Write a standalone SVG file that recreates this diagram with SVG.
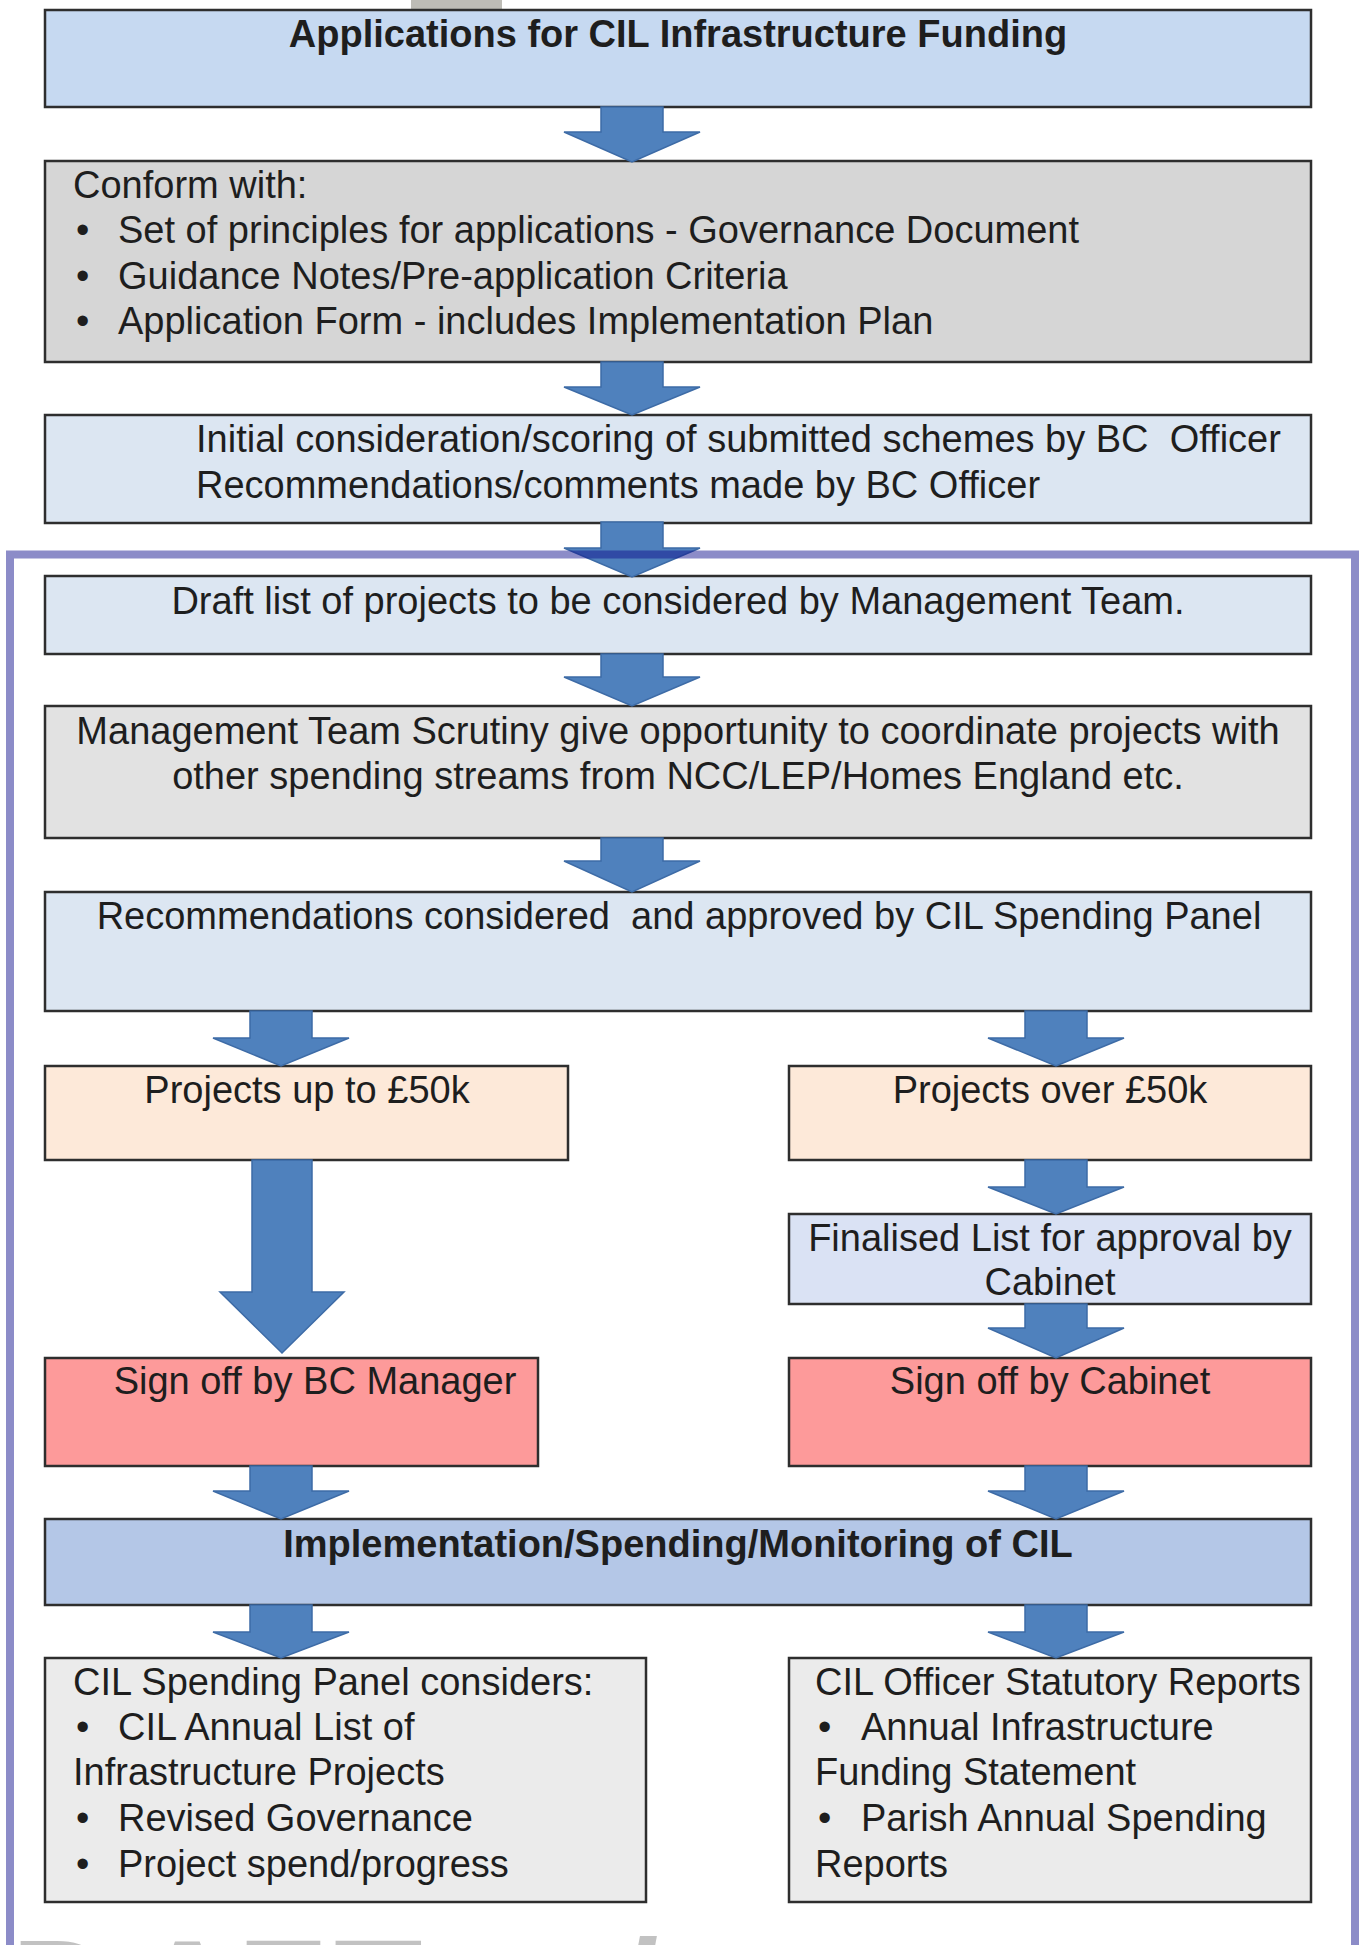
<svg xmlns="http://www.w3.org/2000/svg" width="1360" height="1945" viewBox="0 0 1360 1945">
<style>
.box{stroke:#2e2e2e;stroke-width:2.5}
.t{font-family:"Liberation Sans",Arial,sans-serif;font-size:38px;fill:#1e1e1e;white-space:pre}
.b{font-weight:bold}
.m{text-anchor:middle}
.arr{fill:#4f81bd;stroke:#3d6ba6;stroke-width:1.5}
</style>
<rect x="411" y="0" width="91" height="9" fill="#bdbcb6"/>
<g id="watermark">
<text x="11 135 237 334" y="2041" font-family="Liberation Sans, Arial, sans-serif" font-weight="bold" font-size="145" fill="#c2c2c2">DAFT</text>
<text x="618" y="2041" font-family="Liberation Sans, Arial, sans-serif" font-weight="bold" font-size="145" fill="#c2c2c2">/</text>
</g>
<g id="n1"><rect class="box" x="45" y="10" width="1266" height="97" fill="#c6d9f1"/>
<text class="t b m" x="678" y="47">Applications for CIL Infrastructure Funding</text></g>
<g id="n2"><rect class="box" x="45" y="161" width="1266" height="201" fill="#d6d6d6"/>
<text class="t" x="73" y="198">Conform with:</text>
<text class="t" y="243"><tspan x="76">•</tspan><tspan x="118">Set of principles for applications - Governance Document</tspan></text>
<text class="t" y="289"><tspan x="76">•</tspan><tspan x="118">Guidance Notes/Pre-application Criteria</tspan></text>
<text class="t" y="334"><tspan x="76">•</tspan><tspan x="118">Application Form - includes Implementation Plan</tspan></text></g>
<g id="n3"><rect class="box" x="45" y="415" width="1266" height="108" fill="#dce6f2"/>
<text class="t" x="196" y="452" xml:space="preserve">Initial consideration/scoring of submitted schemes by BC  Officer</text>
<text class="t" x="196" y="498">Recommendations/comments made by BC Officer</text></g>
<g id="n4"><rect class="box" x="45" y="576" width="1266" height="78" fill="#dce6f2"/>
<text class="t m" x="678" y="614">Draft list of projects to be considered by Management Team.</text></g>
<g id="n5"><rect class="box" x="45" y="706" width="1266" height="132" fill="#e2e2e2"/>
<text class="t m" x="678" y="744">Management Team Scrutiny give opportunity to coordinate projects with</text>
<text class="t m" x="678" y="789">other spending streams from NCC/LEP/Homes England etc.</text></g>
<g id="n6"><rect class="box" x="45" y="892" width="1266" height="119" fill="#dce6f2"/>
<text class="t m" x="679" y="929" xml:space="preserve">Recommendations considered  and approved by CIL Spending Panel</text></g>
<g id="n7a"><rect class="box" x="45" y="1066" width="523" height="94" fill="#fde9d9"/>
<text class="t m" x="307" y="1103">Projects up to £50k</text></g>
<g id="n7b"><rect class="box" x="789" y="1066" width="522" height="94" fill="#fde9d9"/>
<text class="t m" x="1050" y="1103">Projects over £50k</text></g>
<g id="n7c"><rect class="box" x="789" y="1214" width="522" height="90" fill="#dae2f4"/>
<text class="t m" x="1050" y="1251">Finalised List for approval by</text>
<text class="t m" x="1050" y="1295">Cabinet</text></g>
<g id="n8a"><rect class="box" x="45" y="1358" width="493" height="108" fill="#fd9a9a"/>
<text class="t m" x="315" y="1394">Sign off by BC Manager</text></g>
<g id="n8b"><rect class="box" x="789" y="1358" width="522" height="108" fill="#fd9a9a"/>
<text class="t m" x="1050" y="1394">Sign off by Cabinet</text></g>
<g id="n9"><rect class="box" x="45" y="1519" width="1266" height="86" fill="#b4c7e7"/>
<text class="t b m" x="678" y="1557">Implementation/Spending/Monitoring of CIL</text></g>
<g id="n10a"><rect class="box" x="45" y="1658" width="601" height="244" fill="#ebebeb"/>
<text class="t" x="73" y="1695">CIL Spending Panel considers:</text>
<text class="t" y="1740"><tspan x="76">•</tspan><tspan x="118">CIL Annual List of</tspan></text>
<text class="t" x="73" y="1785">Infrastructure Projects</text>
<text class="t" y="1831"><tspan x="76">•</tspan><tspan x="118">Revised Governance</tspan></text>
<text class="t" y="1877"><tspan x="76">•</tspan><tspan x="118">Project spend/progress</tspan></text></g>
<g id="n10b"><rect class="box" x="789" y="1658" width="522" height="244" fill="#ebebeb"/>
<text class="t" x="815" y="1695">CIL Officer Statutory Reports</text>
<text class="t" y="1740"><tspan x="818">•</tspan><tspan x="861">Annual Infrastructure</tspan></text>
<text class="t" x="815" y="1785">Funding Statement</text>
<text class="t" y="1831"><tspan x="818">•</tspan><tspan x="861">Parish Annual Spending</tspan></text>
<text class="t" x="815" y="1877">Reports</text></g>
<g id="connectors">
<path class="arr" d="M601 107 H663 V132 H700 L632 162 L564 132 H601 Z"/>
<path class="arr" d="M601 362 H663 V387 H700 L632 415 L564 387 H601 Z"/>
<path class="arr" d="M601 522 H663 V548 H700 L632 577 L564 548 H601 Z"/>
<path class="arr" d="M601 654 H663 V677 H700 L632 706 L564 677 H601 Z"/>
<path class="arr" d="M601 838 H663 V861 H700 L632 892 L564 861 H601 Z"/>
<path class="arr" d="M250 1011 H312 V1038 H349 L281 1066 L213 1038 H250 Z"/>
<path class="arr" d="M1025 1011 H1087 V1038 H1124 L1056 1066 L988 1038 H1025 Z"/>
<path class="arr" d="M252 1160 H312 V1292 H344 L282 1353 L220 1292 H252 Z"/>
<path class="arr" d="M1025 1160 H1087 V1187 H1124 L1056 1214 L988 1187 H1025 Z"/>
<path class="arr" d="M1025 1304 H1087 V1328 H1124 L1056 1358 L988 1328 H1025 Z"/>
<path class="arr" d="M250 1466 H312 V1491 H349 L281 1519 L213 1491 H250 Z"/>
<path class="arr" d="M1025 1466 H1087 V1491 H1124 L1056 1519 L988 1491 H1025 Z"/>
<path class="arr" d="M250 1605 H312 V1632 H349 L281 1658 L213 1632 H250 Z"/>
<path class="arr" d="M1025 1605 H1087 V1632 H1124 L1056 1658 L988 1632 H1025 Z"/>
</g>
<rect id="frame" x="10" y="554.5" width="1345" height="1420" fill="none" stroke="#0f0f8c" stroke-opacity="0.48" stroke-width="8"/>
</svg>
